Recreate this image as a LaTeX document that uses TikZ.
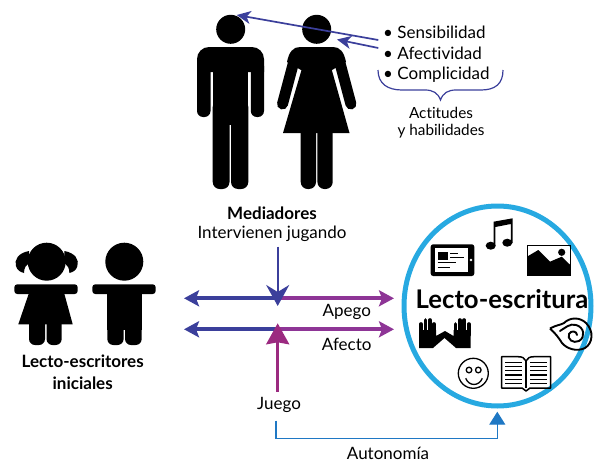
\documentclass[tikz,border=0pt]{standalone}
\usepackage{fontspec}
\setmainfont{Lato}[Ligatures=NoCommon]
\usetikzlibrary{arrows.meta}
\definecolor{azul}{HTML}{3B3F9B}
\definecolor{morado}{HTML}{8E3596}
\definecolor{magenta}{HTML}{9B2A80}
\definecolor{celeste}{HTML}{1F78C4}
\definecolor{aro}{HTML}{27A9E1}
\tikzset{
    texto/.style={font=\fontsize{17}{20}\selectfont, inner sep=0pt},
    chico/.style={font=\fontsize{15.3}{18}\selectfont, inner sep=0pt},
    negrita/.style={font=\fontsize{17}{20}\selectfont\bfseries, inner sep=0pt},
    flecha/.style={line width=3.8pt, -{Stealth[length=15pt,width=16pt,inset=3pt]}},
    fina/.style={azul, line width=1.7pt, -{Stealth[length=14pt,width=13pt,inset=4pt]}},
    dedo/.style={line width=3.6pt, line cap=round},
    trazo/.style={line width=1.3pt},
}
\begin{document}
\begin{tikzpicture}[x=1pt,y=-1pt]
\useasboundingbox (0,0) rectangle (595,463);

% Hombre
\fill (230.7,29.3) circle (14.5);
\fill (197,72) [rounded corners=12] -- (197,47) -- (264,47) [sharp corners] -- (264,72) -- cycle;
\fill[rounded corners=6] (197,60) rectangle (210.5,117);
\fill[rounded corners=6] (250.8,60) rectangle (264,117);
\fill (212.7,65) rectangle (248.3,125);
\fill[rounded corners=7] (212.7,100) rectangle (229.5,189);
\fill[rounded corners=7] (231,100) rectangle (248.3,189);

% Mujer
\fill (316.7,29.3) circle (14.5);
\fill (287,62) .. controls (289,52) and (293,47) .. (300,47) -- (333,47) .. controls (340,47) and (344,52) .. (346,62) -- (332,70) -- (301,70) -- cycle;
\draw[line width=11pt, line cap=round] (294.5,59) -- (282.5,104);
\draw[line width=11pt, line cap=round] (338.9,59) -- (350.9,104);
\fill (302.7,66) -- (283,133) -- (349.5,133) -- (330.7,66) -- cycle;
\fill[rounded corners=7] (300.7,125) rectangle (316,189);
\fill[rounded corners=7] (317.4,125) rectangle (332.7,189);

% Actitudes
\node[texto, anchor=west] (sensi) at (383,32) {• Sensibilidad};
\node[texto, anchor=west] (afect) at (383,53) {• Afectividad};
\node[texto, anchor=west] (compl) at (383,75) {• Complicidad};
\coordinate (cabezaH) at (236.7,15);
\coordinate (cabezaM) at (337,39.5);
\coordinate (salidaS) at (378.3,40);
\coordinate (salidaA) at (378.3,48);
\draw[fina] (salidaS) -- (cabezaH);
\draw[fina] (salidaA) -- (cabezaM);
\draw[azul, line width=1.2pt] (378,70) .. controls (378,84) and (388,90) .. (402,90) -- (425,90) .. controls (433,90) and (438,93) .. (440.5,100) .. controls (443,93) and (448,90) .. (456,90) -- (481,90) .. controls (495,90) and (503,84) .. (503,70);
\node[chico] (actit) at (441,113) {Actitudes};
\node[chico] (habil) at (441,131) {y habilidades};

% Mediadores
\node[negrita] (media) at (272,213) {Mediadores};
\node[texto] (inter) at (272,234) {Intervienen jugando};

% Ninos
\fill (46.7,261.7) circle (19);
\fill (29,251) .. controls (18,253) and (14,260) .. (16,266) .. controls (17,270) and (20,272) .. (24,273) .. controls (24,268) and (26,265) .. (29,263) -- cycle;
\fill (64.4,251) .. controls (75.4,253) and (79.4,260) .. (77.4,266) .. controls (76.4,270) and (73.4,272) .. (69.4,273) .. controls (69.4,268) and (67.4,265) .. (64.4,263) -- cycle;
\fill[rounded corners=3] (14.3,284.3) rectangle (77.7,294);
\fill (30,290) -- (18.3,324.3) -- (72.7,324.3) -- (63.3,290) -- cycle;
\fill[rounded corners=6] (29,315) rectangle (45,345);
\fill[rounded corners=6] (46.5,315) rectangle (61.7,345);

\fill (124.3,261.7) circle (19);
\fill[rounded corners=3] (92.3,284.3) rectangle (155.7,294);
\fill (107.3,290) rectangle (141.7,330);
\fill[rounded corners=6] (107.3,315) rectangle (123.6,345);
\fill[rounded corners=6] (125,315) rectangle (141.7,345);

\node[negrita] (lecto) at (82.7,361.7) {Lecto-escritores};
\node[negrita] (inici) at (82.7,383) {iniciales};

% Flechas centrales
\coordinate (cruceA) at (277.7,298.3);
\coordinate (cruceB) at (277.7,329.3);
\coordinate (izqA) at (184,298.3);
\coordinate (derA) at (394,298.3);
\coordinate (izqB) at (184,329.3);
\coordinate (derB) at (394,329.3);
\coordinate (puntaA) at (277.7,306);
\coordinate (puntaB) at (277.7,323.3);
\coordinate (inicioA) at (277.7,246.7);
\coordinate (inicioB) at (277.7,391.7);
\draw[flecha, azul] (cruceA) -- (izqA);
\draw[flecha, morado] (cruceA) -- (derA);
\draw[flecha, azul] (cruceB) -- (izqB);
\draw[flecha, morado] (cruceB) -- (derB);
\draw[azul, line width=2.2pt, -{Stealth[length=21pt,width=23pt,inset=7pt]}] (inicioA) -- (puntaA);
\draw[magenta, line width=2.6pt, -{Stealth[length=21pt,width=23pt,inset=2pt]}] (inicioB) -- (puntaB);
\node[texto] (apego) at (346.7,311.7) {Apego};
\node[texto] (afecto) at (346.7,344) {Afecto};
\node[texto] (juego) at (279,405) {Juego};
\coordinate (salidaJ) at (276,420.7);
\coordinate (puntaC) at (497.3,411.7);
\draw[celeste, line width=1.4pt, -{Stealth[length=13pt,width=16pt,inset=0pt]}] (salidaJ) |- (497.3,438.3) -- (puntaC);
\node[texto] (auton) at (388,453.5) {Autonomía};

% Aro
\draw[aro, line width=5pt] (497.5,306) ellipse (93.5 and 100);
\node[font=\fontsize{25.7}{28}\selectfont\bfseries, inner sep=0pt] (escri) at (502,299) {Lecto-escritura};

% Tableta
\fill[rounded corners=2.5] (430.7,244.3) rectangle (474.3,276);
\fill[white] (435,248.3) rectangle (468.3,271.7);
\fill[white] (471,260) circle (1.4);
\fill (437.7,251.7) rectangle (447.7,260);
\draw[line width=1.1pt] (450,253.3) -- (457.7,253.3) (450,257.3) -- (464.3,257.3) (437.7,262.7) -- (455.7,262.7) (437.7,267.3) -- (450,267.3);

% Musica
\fill (490.7,245.7) ellipse (5 and 4);
\fill (507.3,242.7) ellipse (5 and 4);
\fill (493.5,221.7) -- (512.7,218.3) -- (512.7,243) -- (510.8,243) -- (510.8,224) -- (495.4,227) -- (495.4,246) -- (493.5,246) -- cycle;

% Imagen
\draw[line width=1pt] (527,245.4) rectangle (570.3,275.3);
\fill (527,256.7) -- (538.3,250) -- (550,261.7) -- (561.7,256.7) -- (570.3,265) -- (570.3,275.3) -- (527,275.3) -- cycle;
\fill (561.7,252.3) circle (3.6);

% Manos
\fill (419,348) -- (419,330) -- (436,330) -- (436,336) -- (445,331) -- (453.5,336) -- (453.5,330) -- (470.7,330) -- (470.7,348) -- (456,348) -- (444.5,338) -- (433,348) -- cycle;
\foreach \xdedo/\ydedo in {421/324, 425.5/320, 430/320, 434/324, 455.5/324, 459.8/320, 464.2/320, 468.7/324}{
    \draw[dedo] (\xdedo,\ydedo) -- (\xdedo,335);
}

% Voluta
\draw[line width=1.9pt, line join=round] (550,328.5) .. controls (556,325) and (561,325) .. (564,323) .. controls (570,317) and (580,317) .. (586,323) .. controls (594,331) and (593,343) .. (585,348) .. controls (577,352) and (567,349) .. (562,343) .. controls (559,338) and (555,333) .. (550,328.5);
\draw[line width=1.9pt, line cap=round] (560,331) .. controls (565,328) and (570,323) .. (576,325) .. controls (584,327) and (586,337) .. (579,341) .. controls (573,344) and (567,339) .. (569,334) .. controls (571,330) and (577,331) .. (577,335);

% Carita
\draw[trazo] (473.3,373.3) circle (15);
\draw[trazo] (469,370) circle (2.8);
\draw[trazo] (478.3,370) circle (2.8);
\draw[trazo] (465.7,378.3) .. controls (469,386.5) and (479,386.5) .. (482.3,378.3);

% Libro
\draw[line width=1.5pt, line join=round] (501.7,356.7) -- (518,356.7) .. controls (522,356.7) and (525,358) .. (526,361) .. controls (527,358) and (530,356.7) .. (534,356.7) -- (550.5,356.7) -- (550.5,388) -- (530,388) -- (526,391) -- (522,388) -- (501.7,388) -- cycle;
\draw[line width=1.2pt] (526,361) -- (526,388);
\foreach \ylinea in {362.3,366.5,370.7,375,379.2,383.4}{
    \draw[line width=1.2pt] (505,\ylinea) -- (521.7,\ylinea);
    \draw[line width=1.2pt] (530,\ylinea) -- (547.3,\ylinea);
}

\end{tikzpicture}
\end{document}
